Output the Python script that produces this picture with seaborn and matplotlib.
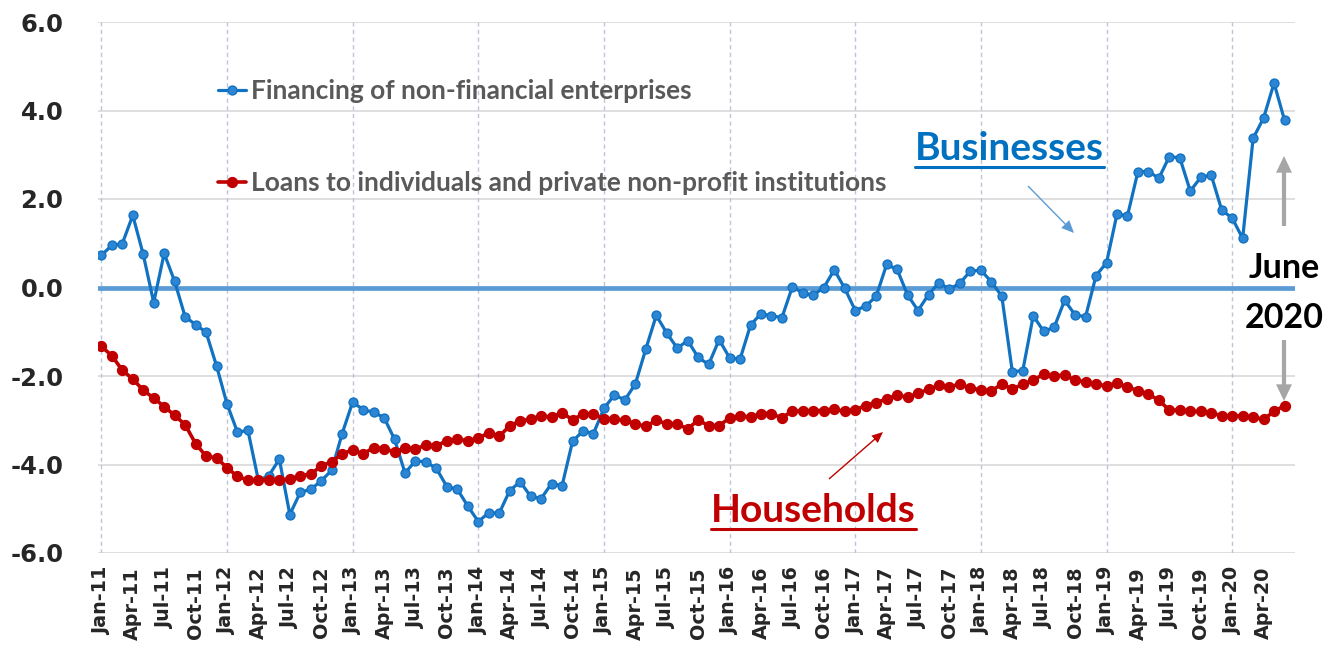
import matplotlib
matplotlib.use("Agg")
import matplotlib.pyplot as plt
import seaborn as sns
import pandas as pd
from matplotlib.lines import Line2D
from matplotlib.patches import FancyArrowPatch

# ---------------- data ----------------
months = pd.date_range("2011-01-01", periods=114, freq="MS")

businesses = [
    0.73, 0.95, 0.99, 1.63, 0.75, -0.34, 0.77, 0.14, -0.66, -0.84, -1.01, -1.77,
    -2.63, -3.27, -3.23, -4.36, -4.25, -3.88, -5.13, -4.63, -4.56, -4.37, -4.13, -3.30,
    -2.59, -2.76, -2.82, -2.94, -3.43, -4.19, -3.92, -3.94, -4.09, -4.50, -4.56, -4.94,
    -5.29, -5.09, -5.10, -4.59, -4.39, -4.72, -4.77, -4.43, -4.48, -3.48, -3.24, -3.30,
    -2.73, -2.43, -2.54, -2.18, -1.39, -0.63, -1.03, -1.37, -1.20, -1.58, -1.74, -1.18,
    -1.59, -1.62, -0.85, -0.59, -0.64, -0.68, 0.02, -0.13, -0.17, 0.00, 0.40, -0.02,
    -0.52, -0.42, -0.20, 0.52, 0.41, -0.17, -0.52, -0.16, 0.11, -0.04, 0.10, 0.37,
    0.39, 0.13, -0.20, -1.90, -1.88, -0.64, -0.99, -0.90, -0.29, -0.62, -0.66, 0.27,
    0.56, 1.66, 1.62, 2.62, 2.62, 2.47, 2.96, 2.93, 2.18, 2.49, 2.54, 1.75,
    1.57, 1.11, 3.37, 3.83, 4.62, 3.78,
]

households = [
    -1.33, -1.54, -1.87, -2.07, -2.32, -2.50, -2.69, -2.89, -3.10, -3.53, -3.81, -3.85,
    -4.07, -4.27, -4.35, -4.36, -4.34, -4.35, -4.33, -4.25, -4.22, -4.03, -3.94, -3.76,
    -3.67, -3.76, -3.62, -3.65, -3.71, -3.63, -3.65, -3.56, -3.58, -3.46, -3.43, -3.46,
    -3.41, -3.28, -3.36, -3.13, -3.01, -2.98, -2.90, -2.93, -2.83, -2.99, -2.86, -2.85,
    -2.98, -2.98, -2.99, -3.08, -3.14, -3.00, -3.08, -3.09, -3.19, -3.00, -3.12, -3.12,
    -2.95, -2.90, -2.93, -2.85, -2.85, -2.95, -2.78, -2.80, -2.78, -2.78, -2.75, -2.80,
    -2.76, -2.67, -2.60, -2.52, -2.43, -2.48, -2.39, -2.30, -2.21, -2.25, -2.18, -2.28,
    -2.31, -2.33, -2.19, -2.29, -2.19, -2.09, -1.96, -2.01, -1.97, -2.10, -2.13, -2.19,
    -2.22, -2.16, -2.25, -2.33, -2.41, -2.55, -2.77, -2.77, -2.80, -2.80, -2.83, -2.90,
    -2.90, -2.90, -2.93, -2.98, -2.80, -2.67,
]

tick_labels = [
    "Jan-11", "Apr-11", "Jul-11", "Oct-11", "Jan-12", "Apr-12", "Jul-12", "Oct-12",
    "Jan-13", "Apr-13", "Jul-13", "Oct-13", "Jan-14", "Apr-14", "Jul-14", "Oct-14",
    "Jan-15", "Apr-15", "Jul-15", "Oct-15", "Jan-16", "Apr-16", "Jul-16", "Oct-16",
    "Jan-17", "Apr-17", "Jul-17", "Oct-17", "Jan-18", "Apr-18", "Jul-18", "Oct-18",
    "Jan-19", "Apr-19", "Jul-19", "Oct-19", "Jan-20", "Apr-20",
]
y_ticks = [-6, -4, -2, 0, 2, 4, 6]

label_biz = "Financing of non-financial enterprises"
label_hh = "Loans to individuals and private non-profit institutions"

df = pd.DataFrame({"idx": range(len(months)), "biz": businesses, "hh": households})

# ---------------- style ----------------
sns.set_style("white")
plt.rcParams["font.family"] = ["DejaVu Sans"]

W, H = 1336, 651
fig = plt.figure(figsize=(W / 100, H / 100), dpi=100)
ax = fig.add_axes([98 / W, 1 - 553 / H, 1197 / W, 531 / H])


def fp(x, y):
    return (x / W, 1 - y / H)


BLUE = "#1272C2"
RED = "#C00000"

# gridlines
for v in y_ticks:
    ax.axhline(v, color="#D9D9D9", lw=1.2, zorder=0)
for i in range(0, len(months), 12):
    ax.axvline(i, color="#BCC5D6", lw=1.0, ls=(0, (3, 2.5)), zorder=0.5)

# zero line
ax.axhline(0, color="#5B9BD5", lw=3.4, zorder=1)

sns.lineplot(data=df, x="idx", y="biz", ax=ax, color=BLUE, lw=2.3, marker="o",
             markersize=6.4, markerfacecolor="#2C86D3", markeredgecolor=BLUE,
             markeredgewidth=1.0, label=label_biz, zorder=3)
sns.lineplot(data=df, x="idx", y="hh", ax=ax, color=RED, lw=2.6, marker="o",
             markersize=7.3, markerfacecolor=RED, markeredgecolor=RED,
             markeredgewidth=0.8, label=label_hh, zorder=3)

ax.set_xlim(-0.32, 114.0)
ax.set_ylim(-6, 6)
ax.set_xlabel("")
ax.set_ylabel("")
for s in ax.spines.values():
    s.set_visible(False)

ax.set_yticks(y_ticks)
ax.set_yticklabels([f"{v:.1f}" for v in y_ticks], fontsize=17.5, fontweight="bold")
ax.set_xticks(range(0, len(months), 3))
ax.set_xticklabels(tick_labels, rotation=90, fontsize=13.8, fontweight="bold")
ax.tick_params(axis="y", length=0, pad=25)
ax.tick_params(axis="x", length=0, pad=10)

# legend
leg = ax.legend(loc="upper left", bbox_to_anchor=fp(218, 79), bbox_transform=fig.transFigure,
                frameon=False, borderpad=0, borderaxespad=0, handlelength=1.05,
                handletextpad=0.2, labelspacing=2.58,
                prop={"family": "Lato", "weight": "bold", "size": 19})
for t in leg.get_texts():
    t.set_color("#595959")

# annotations
tb = fig.text(*fp(915, 160), "Businesses", color="#0070C0", fontsize=28, fontweight="bold",
              family="Lato", ha="left", va="baseline")
th = fig.text(*fp(711, 522), "Households", color=RED, fontsize=28, fontweight="bold",
              family="Lato", ha="left", va="baseline")
fig.text(*fp(1284, 268), "June", color="black", fontsize=24.5, fontweight="bold",
         family="Lato", ha="center", va="center")
fig.text(*fp(1284, 318), "2020", color="black", fontsize=24.5, fontweight="bold",
         family="Lato", ha="center", va="center")

fig.canvas.draw()
r = fig.canvas.get_renderer()
for t, yb, col in [(tb, 167, "#0070C0"), (th, 529, RED)]:
    bb = t.get_window_extent(r)
    fig.add_artist(Line2D([bb.x0 / W, bb.x1 / W], [1 - yb / H, 1 - yb / H],
                          transform=fig.transFigure, color=col, lw=2.2))


def arrow(p0, p1, color, style):
    a = FancyArrowPatch(fp(*p0), fp(*p1), transform=fig.transFigure, arrowstyle=style,
                        mutation_scale=1, color=color, lw=0, shrinkA=0, shrinkB=0)
    fig.add_artist(a)


arrow((1028, 186), (1074, 233), "#5B9BD5", "simple,head_length=9,head_width=8,tail_width=1.0")
arrow((829, 479), (883, 432), RED, "simple,head_length=8,head_width=7,tail_width=1.0")
arrow((1284, 226), (1284, 156), "#A6A6A6", "simple,head_length=12,head_width=11.5,tail_width=3")
arrow((1284, 340), (1284, 401), "#A6A6A6", "simple,head_length=12,head_width=11.5,tail_width=3")

fig.savefig("out.png", dpi=100)
